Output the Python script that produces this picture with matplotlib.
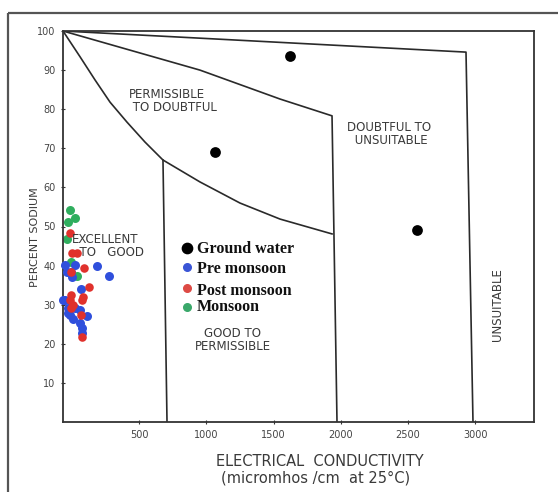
import matplotlib.pyplot as plt
from matplotlib.patches import Rectangle

# diagram boundaries (EC, % Na)
unsuit_ec = [-67, 2932, 2984]
unsuit_na = [100, 94.6, 0]
upper_ec = [-67, 432, 952, 1548, 1935, 1972]
upper_na = [100, 95.1, 90.0, 82.6, 78.3, 0]
lower_ec = [-67, 60, 171, 283, 409, 543, 677, 952, 1250, 1548, 1935]
lower_na = [100, 93.4, 87.5, 81.8, 76.7, 71.6, 67.0, 61.4, 56.0, 51.9, 48.1]
good_ec = [677, 707]
good_na = [67.0, 0]

# samples
gw_ec = [1622, 1064, 2567]
gw_na = [93.6, 69.1, 49.1]

pre_ec = [-52, 22, -7, 186, 275, 0, -37, 67, -67, -52, -30, 22, 60, -15, 112, 7, 60, 74, 74, -30]
pre_na = [40.2, 40.2, 38.4, 39.9, 37.3, 37.1, 38.4, 34.0, 31.2, 31.2, 29.2, 29.2, 28.6, 27.4, 27.1, 26.3, 25.3, 24.0, 22.8, 27.9]

post_ec = [-15, 0, 37, 89, -7, 126, -7, 82, -15, 74, 7, -7, 67, 74]
post_na = [48.3, 43.2, 43.2, 39.4, 38.4, 34.5, 32.5, 32.0, 31.2, 31.2, 29.9, 29.2, 27.4, 21.7]

mon_ec = [-15, 22, -30, -37, -7, 37]
mon_na = [54.2, 52.2, 51.2, 46.8, 40.9, 37.3]

x_ticks = [500, 1000, 1500, 2000, 2500, 3000]
y_ticks = [10, 20, 30, 40, 50, 60, 70, 80, 90, 100]

W, H = 558, 492


def px(x, y):
    return x / W, 1 - y / H


fig = plt.figure(figsize=(W / 100, H / 100), dpi=100)
fig.add_artist(Rectangle(px(8, 13), 1.2, -1.2, transform=fig.transFigure,
                         fill=False, edgecolor='#555555', lw=1.6))

ax = fig.add_axes([63 / W, 1 - 422 / H, 471 / W, 391 / H])
ax.set_xlim(-67, 3438)
ax.set_ylim(0, 100)
for s in ax.spines.values():
    s.set_color('#333333')
    s.set_linewidth(1.3)

line_kw = dict(color='#2a2a2a', lw=1.2)
ax.plot(unsuit_ec, unsuit_na, **line_kw)
ax.plot(upper_ec, upper_na, **line_kw)
ax.plot(lower_ec, lower_na, **line_kw)
ax.plot(good_ec, good_na, **line_kw)

ax.set_xticks(x_ticks)
ax.set_yticks(y_ticks)
ax.tick_params(direction='inout', length=3, width=0.8, colors='#333333',
               labelsize=7, labelcolor='#444444', pad=4)

blue, red, green = '#2f4fdc', '#e0312c', '#2fae5e'
ax.scatter(pre_ec, pre_na, s=42, color=blue, zorder=3, clip_on=False, lw=0)
ax.scatter(post_ec, post_na, s=38, color=red, zorder=4, clip_on=False, lw=0)
ax.scatter(mon_ec, mon_na, s=42, color=green, zorder=2, clip_on=False, lw=0)
ax.scatter(gw_ec, gw_na, s=60, color='black', zorder=5, clip_on=False, lw=0)

lab = dict(color='#3a3a3a', fontsize=8.5, family='DejaVu Sans')
fig.text(*px(129, 101), 'PERMISSIBLE\n TO DOUBTFUL', ha='left', va='center',
         linespacing=0.95, **lab)
fig.text(*px(389, 134), 'DOUBTFUL TO\n UNSUITABLE', ha='center', va='center',
         linespacing=0.95, **lab)
fig.text(*px(72, 246), 'EXCELLENT\n  TO   GOOD', ha='left', va='center',
         linespacing=0.95, **lab)
fig.text(*px(233, 340), 'GOOD TO\nPERMISSIBLE', ha='center', va='center',
         linespacing=0.95, **lab)
fig.text(*px(497, 305), 'UNSUITABLE', rotation=90, ha='center', va='center', **lab)

fig.text(*px(35, 237), 'PERCENT SODIUM', rotation=90, ha='center', va='center',
         color='#3a3a3a', fontsize=8)
fig.text(*px(320, 461), 'ELECTRICAL  CONDUCTIVITY', ha='center', va='center',
         color='#3a3a3a', fontsize=10.5)
fig.text(*px(316, 478), '(micromhos /cm  at 25\u00b0C)', ha='center', va='center',
         color='#3a3a3a', fontsize=10.5)

# legend drawn as in the scanned figure
leg_rows = [('Ground water', 'black', 248, 249, 55),
            ('Pre monsoon', '#3a55d6', 267, 269, 30),
            ('Post monsoon', '#dd4a44', 288, 291, 30),
            ('Monsoon', '#3aa86a', 307, 307, 30)]
for name, col, dy, ty, sz in leg_rows:
    fig.add_artist(plt.Line2D([187 / W], [1 - dy / H], marker='o', markersize=sz ** 0.5,
                              color=col, lw=0, transform=fig.transFigure))
    fig.text(*px(197, ty), name, ha='left', va='center', fontsize=11.5,
             fontweight='bold', family='Liberation Serif', color='#111111')

fig.savefig('out.png', dpi=100)
